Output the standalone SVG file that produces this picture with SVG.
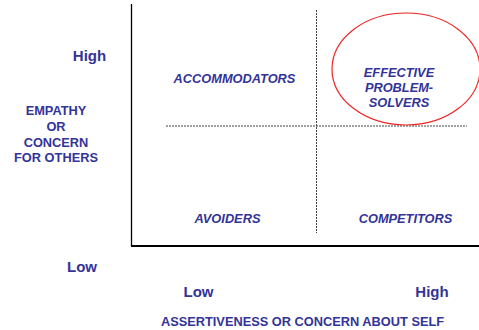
<svg xmlns="http://www.w3.org/2000/svg" width="479" height="330" viewBox="0 0 479 330">
  <style>
    text { font-family: "Liberation Sans", Arial, sans-serif; font-weight: bold; fill: #333399; text-anchor: middle; }
    .axis-label { font-size: 12.8px; }
    .tick { font-size: 15px; }
    .quad { font-size: 12.8px; font-style: italic; }
    .axis { stroke: #000; fill: none; }
    .divider { stroke: #444; stroke-width: 1; stroke-dasharray: 2 1; fill: none; }
  </style>
  <rect width="479" height="330" fill="#fff"/>

  <g id="connectors">
    <line class="axis" x1="131.5" y1="4" x2="131.5" y2="246" stroke-width="1.3"/>
    <line class="axis" x1="131" y1="246" x2="479" y2="246" stroke="#333" stroke-width="1.8"/>
    <line class="divider" x1="316.5" y1="10" x2="316.5" y2="233"/>
    <line class="divider" x1="166" y1="126" x2="467" y2="126"/>
  </g>

  <g id="highlight">
    <ellipse cx="406" cy="69" rx="74" ry="56" fill="none" stroke="#ee2222" stroke-width="1.2"/>
  </g>

  <g id="y-axis-label">
    <text class="axis-label" x="56" y="115">EMPATHY</text>
    <text class="axis-label" x="56" y="131">OR</text>
    <text class="axis-label" x="56" y="147">CONCERN</text>
    <text class="axis-label" x="56" y="162">FOR OTHERS</text>
  </g>
  <g id="y-high"><text class="tick" x="89.5" y="61">High</text></g>
  <g id="y-low"><text class="tick" x="82" y="272">Low</text></g>
  <g id="x-low"><text class="tick" x="198.5" y="297">Low</text></g>
  <g id="x-high"><text class="tick" x="432" y="297">High</text></g>
  <g id="x-axis-label"><text class="axis-label" x="302.5" y="326">ASSERTIVENESS OR CONCERN ABOUT SELF</text></g>

  <g id="accommodators"><text class="quad" x="234.5" y="83">ACCOMMODATORS</text></g>
  <g id="problem-solvers">
    <text class="quad" x="399" y="77">EFFECTIVE</text>
    <text class="quad" x="399" y="92">PROBLEM-</text>
    <text class="quad" x="399" y="107">SOLVERS</text>
  </g>
  <g id="avoiders"><text class="quad" x="227.5" y="223">AVOIDERS</text></g>
  <g id="competitors"><text class="quad" x="405.5" y="223">COMPETITORS</text></g>
</svg>
